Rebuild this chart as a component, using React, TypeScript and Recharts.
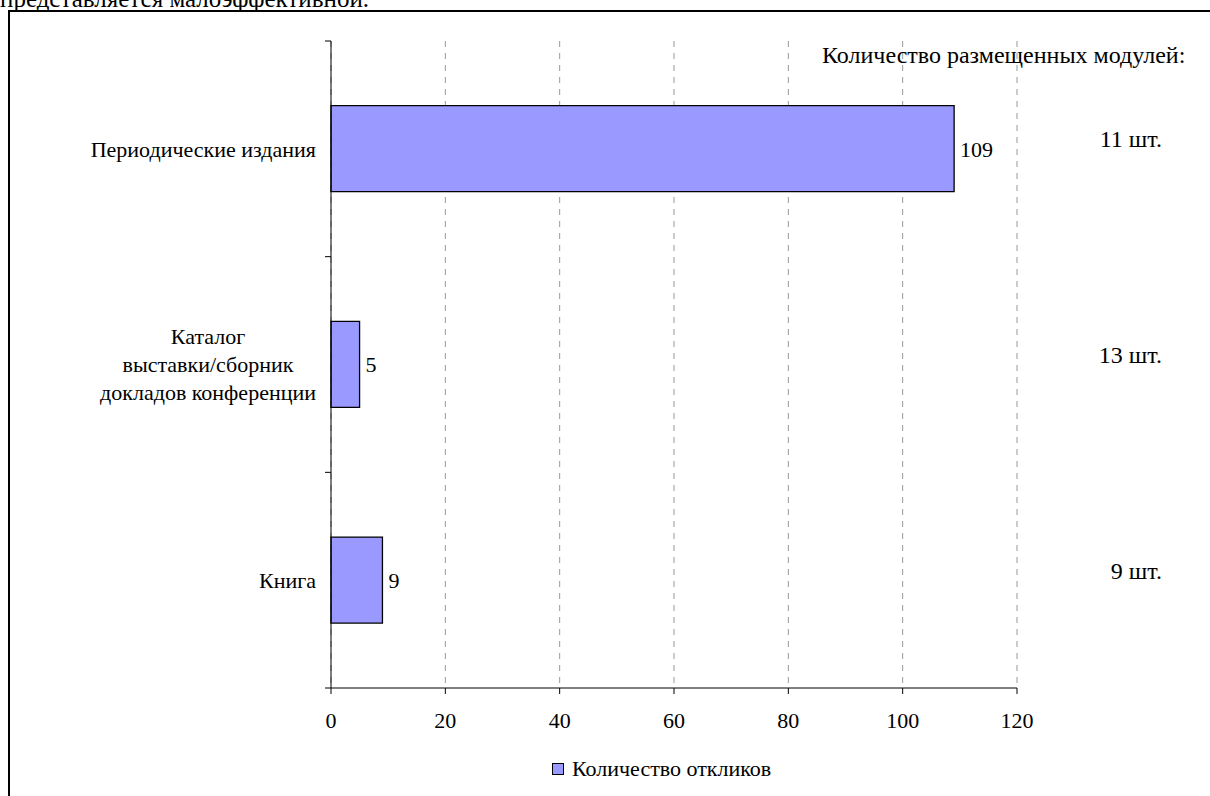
import { BarChart, Bar, XAxis, YAxis, CartesianGrid, Legend, LabelList } from 'recharts'

const categories = ['Периодические издания', 'Каталог\nвыставки/сборник\nдокладов конференции', 'Книга']
const responses = [109, 5, 9]
const modules = ['11 шт.', '13 шт.', '9 шт.']
const xTicks = [0, 20, 40, 60, 80, 100, 120]

const data = categories.map((name, i) => ({ name, responses: responses[i], modules: modules[i] }))

const FONT = '"Liberation Serif", "Times New Roman", serif'
const FS = 22
const TICK_SIZE = 6
const CAT_MARGIN = 9
const LINE_H = 28

let ctx: CanvasRenderingContext2D | null = null
function textWidth(s: string) {
  if (!ctx) ctx = document.createElement('canvas').getContext('2d')
  if (!ctx) return s.length * FS * 0.45
  ctx.font = `${FS}px ${FONT}`
  return ctx.measureText(s).width
}

function CategoryTick(props: any) {
  const { x, y, payload, index } = props
  const half = payload.offset ?? 0
  const axisX = x + CAT_MARGIN + TICK_SIZE
  const lines = String(payload.value).split('\n')
  const multi = lines.length > 1
  const w = Math.max(...lines.map(textWidth))
  const top = y - ((lines.length - 1) / 2) * LINE_H
  return (
    <g>
      <line x1={axisX - TICK_SIZE} x2={axisX} y1={y - half} y2={y - half} stroke="#000" />
      {index === categories.length - 1 && (
        <line x1={axisX - TICK_SIZE} x2={axisX} y1={y + half} y2={y + half} stroke="#000" />
      )}
      <text
        x={multi ? x - w / 2 : x}
        y={top}
        textAnchor={multi ? 'middle' : 'end'}
        fontFamily={FONT}
        fontSize={FS}
        fill="#000"
      >
        {lines.map((l, i) => (
          <tspan key={i} x={multi ? x - w / 2 : x} y={top + i * LINE_H} dy="0.355em">{l}</tspan>
        ))}
      </text>
    </g>
  )
}

function ModuleTick(props: any) {
  const { x, y, index } = props
  return (
    <text x={x} y={y - 10} dy="0.355em" textAnchor="end" fontFamily={FONT} fontSize={24} fill="#000">
      {modules[index]}
    </text>
  )
}

function LegendContent(props: any) {
  const { payload } = props
  return (
    <div style={{ display: 'flex', alignItems: 'center', fontFamily: FONT, fontSize: FS, color: '#000' }}>
      {(payload || []).map((p: any) => (
        <div key={p.value} style={{ display: 'flex', alignItems: 'center' }}>
          <span style={{ display: 'inline-block', width: 10, height: 10, background: '#9999ff', border: '1px solid #000', marginRight: 8 }} />
          <span>{p.value}</span>
        </div>
      ))}
    </div>
  )
}

export default function App() {
  return (
    <div style={{ position: 'fixed', left: 0, top: 0, width: 1210, height: 796, overflow: 'hidden', background: '#fff' }}>
      <div style={{ position: 'absolute', left: 0, top: -14, fontFamily: FONT, fontSize: 25, lineHeight: '25px', whiteSpace: 'nowrap' }}>
        представляется малоэффективной.
      </div>
      <div style={{ position: 'absolute', left: 8, top: 10, width: 1300, height: 900, borderLeft: '2px solid #000', borderTop: '2px solid #000' }} />
      <div style={{ position: 'absolute', left: 822, top: 43, fontFamily: FONT, fontSize: 24, lineHeight: '24px', whiteSpace: 'nowrap' }}>
        Количество размещенных модулей:
      </div>
      <div style={{ position: 'absolute', left: 0, top: 0 }}>
        <BarChart
          width={1210}
          height={796}
          data={data}
          layout="vertical"
          barCategoryGap="30%"
          margin={{ top: 41, right: 0, bottom: 28, left: 0 }}
        >
          <CartesianGrid horizontal={false} stroke="#999" strokeDasharray="6 6" />
          <XAxis
            type="number"
            domain={[0, 120]}
            ticks={xTicks}
            height={50}
            tickSize={TICK_SIZE}
            tickMargin={18}
            stroke="#000"
            tick={{ fill: '#000', fontSize: FS, fontFamily: FONT }}
          />
          <YAxis
            type="category"
            dataKey="name"
            width={331}
            tickSize={TICK_SIZE}
            tickMargin={CAT_MARGIN}
            tickLine={false}
            stroke="#000"
            tick={<CategoryTick />}
            interval={0}
          />
          <YAxis
            yAxisId="mods"
            orientation="right"
            type="category"
            dataKey="name"
            width={193}
            tickSize={TICK_SIZE}
            tickMargin={139}
            tickLine={false}
            axisLine={false}
            tick={<ModuleTick />}
            interval={0}
          />
          <Legend
            verticalAlign="bottom"
            content={<LegendContent />}
            wrapperStyle={{ left: 552, top: 756, bottom: 'auto', width: 'auto', height: 30 }}
          />
          <Bar dataKey="responses" name="Количество откликов" fill="#9999ff" stroke="#000" strokeWidth={1.3} isAnimationActive={false}>
            <LabelList dataKey="responses" position="right" offset={6} fill="#000" fontSize={FS} fontFamily={FONT} />
          </Bar>
        </BarChart>
      </div>
    </div>
  )
}
